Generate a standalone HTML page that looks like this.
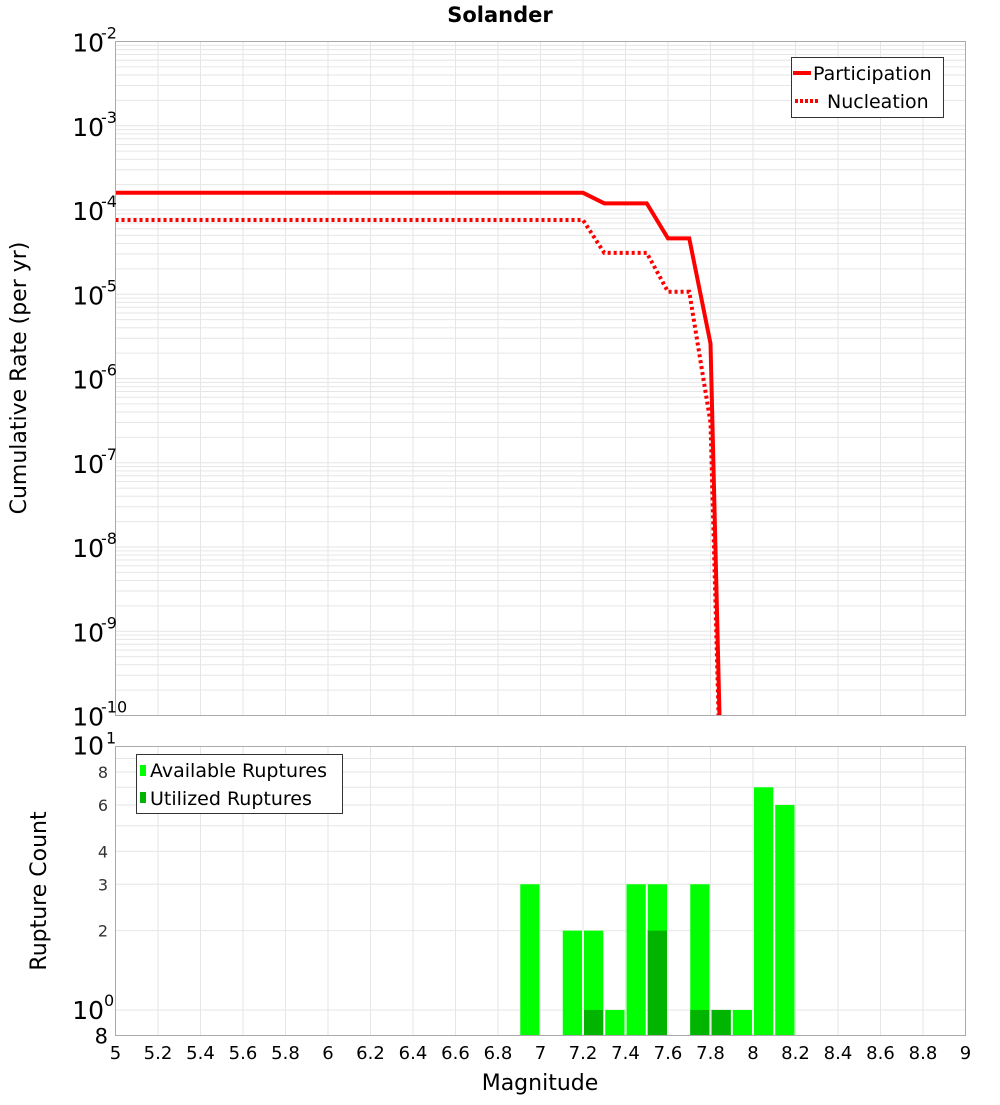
<!DOCTYPE html>
<html><head><meta charset="utf-8"><style>
body{margin:0;background:#fff;}
svg text{font-family:"DejaVu Sans","Liberation Sans",sans-serif;}
</style></head><body>
<svg id="chart" width="1000" height="1100" xmlns="http://www.w3.org/2000/svg">
<text x="500" y="22" text-anchor="middle" font-size="21" font-weight="bold">Solander</text>
<g id="topg"></g>
<g id="botg"></g>
<text transform="translate(26,378) rotate(-90)" text-anchor="middle" font-size="22">Cumulative Rate (per yr)</text>
<text transform="translate(46,891) rotate(-90)" text-anchor="middle" font-size="22">Rupture Count</text>
<text x="540" y="1090" text-anchor="middle" font-size="22">Magnitude</text>
</svg>
<script>
const partMags=[5,7.2,7.3,7.5,7.6,7.7,7.8,7.85];
const partVals=[1.6e-4,1.6e-4,1.2e-4,1.2e-4,4.6e-5,4.6e-5,2.6e-6,1.6e-11];
const nuclMags=[5,7.2,7.3,7.5,7.6,7.7,7.8,7.85];
const nuclVals=[7.6e-5,7.6e-5,3.1e-5,3.1e-5,1.07e-5,1.07e-5,3e-7,8e-12];
const barMags=[6.95,7.15,7.25,7.35,7.45,7.55,7.75,7.85,7.95,8.05,8.15];
const availCounts=[3,2,2,1,3,3,3,1,1,7,6];
const usedCounts=[0,0,1,0,0,2,1,1,0,0,0];
const xTicks=[5,5.2,5.4,5.6,5.8,6,6.2,6.4,6.6,6.8,7,7.2,7.4,7.6,7.8,8,8.2,8.4,8.6,8.8,9];
const topExps=[-2,-3,-4,-5,-6,-7,-8,-9,-10];
const botTicks=[8,6,4,3,2];

const NS="http://www.w3.org/2000/svg";
const L=115.5,R=965.5,T1=41.5,B1=715.5,T2=746.5,B2=1035.5;
const xs=m=>L+(m-5)/(9-5)*(R-L);
const yT=v=>T1+(-2-Math.log10(v))/8*(B1-T1);
const yB=v=>T2+(1-Math.log10(v))/(1-Math.log10(0.8))*(B2-T2);
function mk(p,tag,a){const e=document.createElementNS(NS,tag);for(const k in a)e.setAttribute(k,a[k]);p.appendChild(e);return e;}
const topG=document.getElementById('topg'),botG=document.getElementById('botg');
for(let e=-10;e<-2;e++)for(let k=1;k<10;k++){const y=yT(k*Math.pow(10,e));
 const g=mk(topG,'line',{x1:L,x2:R,y1:y,y2:y,stroke:'#e6e6e6','stroke-width':1});
 
 }
xTicks.forEach(m=>{[[topG,T1,B1],[botG,T2,B2]].forEach(([p,a,b])=>{const g=mk(p,'line',{x1:xs(m),x2:xs(m),y1:a,y2:b,stroke:'#e6e6e6','stroke-width':1});
 
 });});
for(let k=1;k<=10;k++){const y=yB(k);const g=mk(botG,'line',{x1:L,x2:R,y1:y,y2:y,stroke:'#e6e6e6','stroke-width':1});
 
 }
const defs=mk(document.getElementById('chart'),'defs',{});
const cp=mk(defs,'clipPath',{id:'c1'});mk(cp,'rect',{x:L,y:T1,width:R-L,height:B1-T1});
function pts(ms,vs){return ms.map((m,i)=>xs(m)+','+yT(vs[i])).join(' ');}
const pl=mk(topG,'polyline',{points:pts(partMags,partVals),fill:'none',stroke:'#ff0000','stroke-width':4,'clip-path':'url(#c1)'});


const nl=mk(topG,'polyline',{points:pts(nuclMags,nuclVals),fill:'none',stroke:'#ff0000','stroke-width':4,'stroke-dasharray':'3,3','clip-path':'url(#c1)'});


const bw=xs(5.1)-xs(5)-2;
barMags.forEach((m,i)=>{const x=xs(m-0.05)+1;
 const r=mk(botG,'rect',{x:x,y:yB(availCounts[i]),width:bw,height:B2-yB(availCounts[i]),fill:'#00ff00'});
 
 
 if(usedCounts[i]>0){const u=mk(botG,'rect',{x:x,y:yB(usedCounts[i]),width:bw,height:B2-yB(usedCounts[i]),fill:'#00b400'});
 
 }});
[[topG,T1,B1],[botG,T2,B2]].forEach(([p,a,b])=>{const f=mk(p,'rect',{x:L,y:a,width:R-L,height:b-a,fill:'none',stroke:'#aaaaaa','stroke-width':1});
 
 });
topExps.forEach(e=>{const y=yT(Math.pow(10,e));const t=mk(topG,'text',{x:104,y:y+10,'text-anchor':'end','font-size':25});t.textContent='10';
 
 
 const s=mk(topG,'text',{x:101,y:y-3,'font-size':16});s.textContent=String(e);
 
 });
{const t=mk(botG,'text',{x:104,y:T2+8,'text-anchor':'end','font-size':25});t.textContent='10';
 
 
 const s=mk(botG,'text',{x:106,y:T2-3,'font-size':16});s.textContent='1';
 
 
 const t2=mk(botG,'text',{x:104,y:yB(1)+9,'text-anchor':'end','font-size':25});t2.textContent='10';
 
 
 const s2=mk(botG,'text',{x:104,y:yB(1)-4,'font-size':16});s2.textContent='0';
 
 
 const t3=mk(botG,'text',{x:108,y:B2+8,'text-anchor':'end','font-size':21});t3.textContent='8';
 
 }
botTicks.forEach(v=>{const t=mk(botG,'text',{x:108,y:yB(v)+6,'text-anchor':'end','font-size':16,fill:'#333'});t.textContent=String(v);
 
 });
xTicks.forEach(m=>{const t=mk(botG,'text',{x:xs(m),y:1059,'text-anchor':'middle','font-size':18});t.textContent=String(m);
 
 });
{const g=mk(topG,'g',{});
 
 
 mk(g,'rect',{x:791.5,y:57.5,width:152,height:60,fill:'#fff',stroke:'#333','stroke-width':1});
 mk(g,'line',{x1:793,x2:811,y1:73,y2:73,stroke:'#f00','stroke-width':4});
 mk(g,'line',{x1:795,x2:820,y1:101,y2:101,stroke:'#f00','stroke-width':4,'stroke-dasharray':'3,2'});
 const a=mk(g,'text',{x:813,y:80,'font-size':19});a.textContent='Participation';
 const b=mk(g,'text',{x:827,y:108,'font-size':19});b.textContent='Nucleation';}
{const g=mk(botG,'g',{});
 
 
 mk(g,'rect',{x:136.5,y:754.5,width:206,height:59,fill:'#fff',stroke:'#333','stroke-width':1});
 mk(g,'rect',{x:140,y:765,width:6,height:11,fill:'#00ff00'});
 mk(g,'rect',{x:140,y:792,width:6,height:11,fill:'#00b400'});
 const a=mk(g,'text',{x:150,y:777,'font-size':19});a.textContent='Available Ruptures';
 const b=mk(g,'text',{x:150,y:805,'font-size':19});b.textContent='Utilized Ruptures';}
</script>
</body></html>
